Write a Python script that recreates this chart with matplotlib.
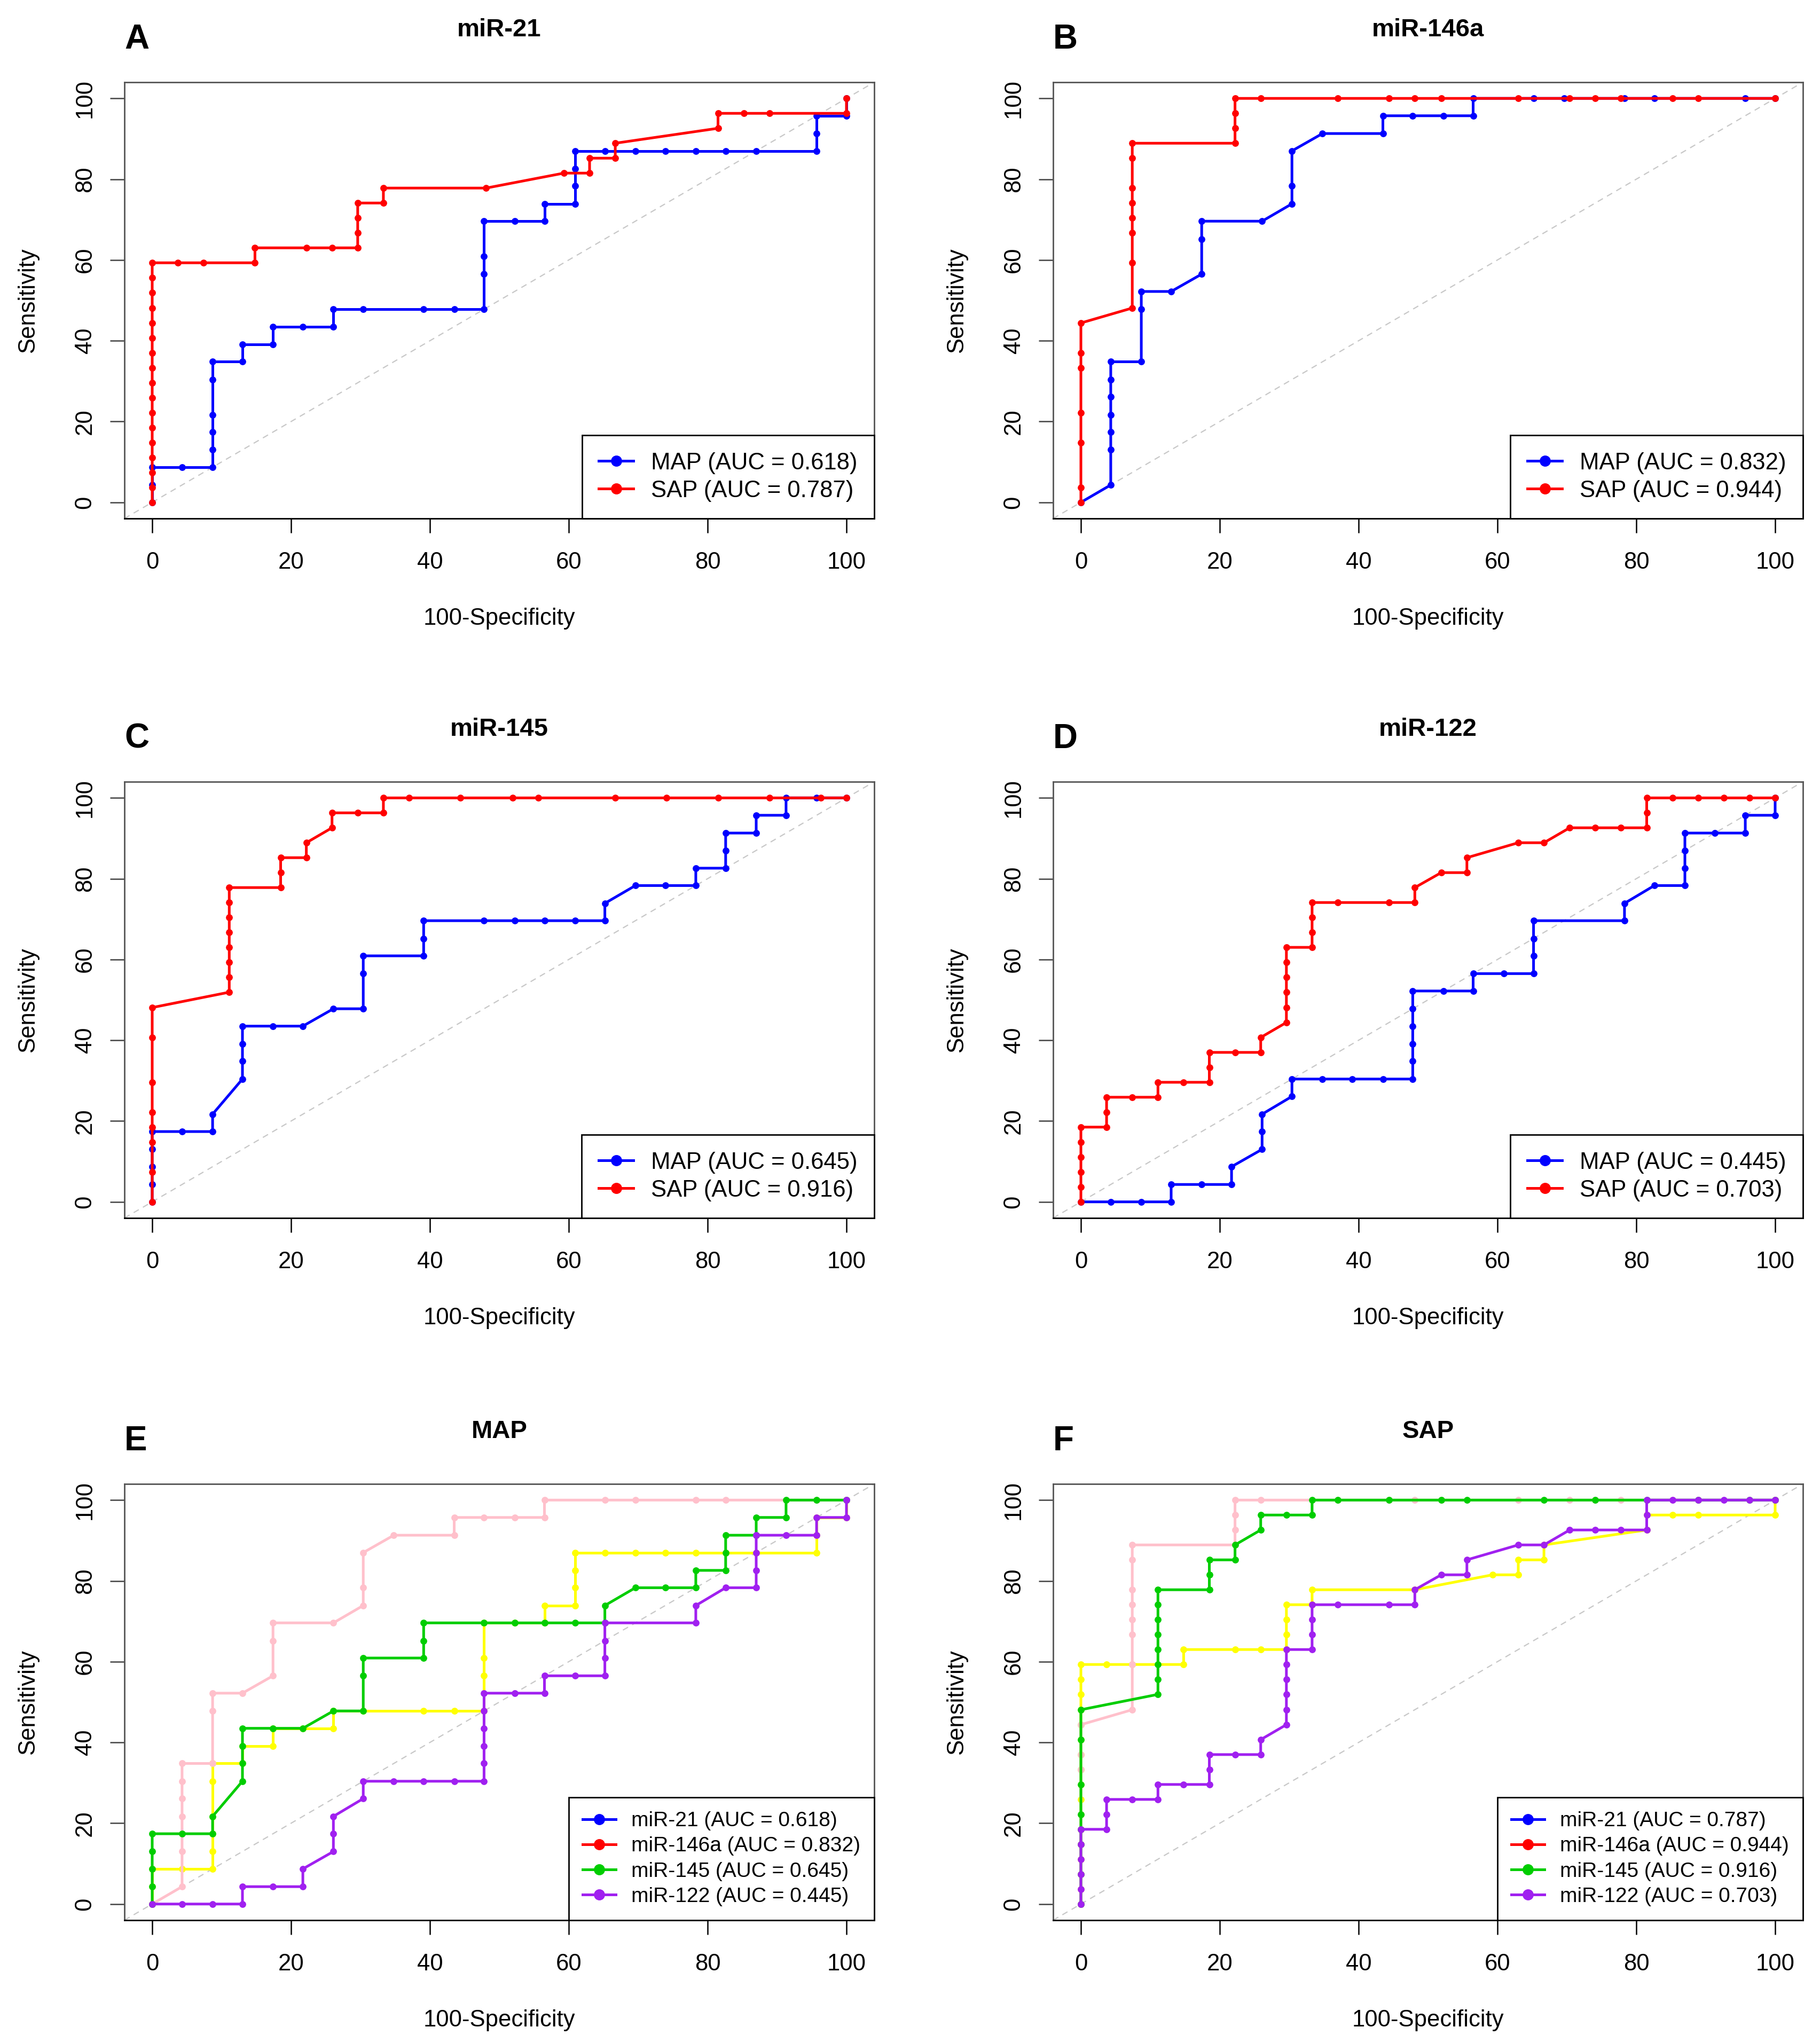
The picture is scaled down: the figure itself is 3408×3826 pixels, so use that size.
import matplotlib
matplotlib.use("Agg")
import matplotlib.pyplot as plt
from matplotlib.lines import Line2D

plt.rcParams['font.family'] = ['Liberation Sans', 'DejaVu Sans']

# ROC coordinates: x = 100-Specificity, y = Sensitivity (%)
# miR-21
mir21_map_x = [0, 0, 0, 4.3, 8.7, 8.7, 8.7, 8.7, 8.7, 8.7, 13.0, 13.0, 17.4, 17.4, 21.7, 26.1, 26.1, 30.4, 39.1,
               43.5, 47.8, 47.8, 47.8, 47.8, 52.2, 56.5, 56.5, 60.9, 60.9, 60.9, 60.9, 65.2, 69.6, 73.9, 78.3,
               82.6, 87.0, 95.7, 95.7, 95.7, 100, 100]
mir21_map_y = [0, 4.3, 8.7, 8.7, 8.7, 13.0, 17.4, 21.7, 30.4, 34.8, 34.8, 39.1, 39.1, 43.5, 43.5, 43.5, 47.8, 47.8,
               47.8, 47.8, 47.8, 56.5, 60.9, 69.6, 69.6, 69.6, 73.9, 73.9, 78.3, 82.6, 87.0, 87.0, 87.0, 87.0,
               87.0, 87.0, 87.0, 87.0, 91.3, 95.7, 95.7, 100]
mir21_sap_x = [0, 0, 0, 0, 0, 0, 0, 0, 0, 0, 0, 0, 0, 0, 0, 0, 0, 3.7, 7.4, 14.8, 14.8, 22.2, 25.9, 29.6, 29.6,
               29.6, 29.6, 33.3, 33.3, 48.1, 59.3, 63.0, 63.0, 66.7, 66.7, 81.5, 81.5, 85.2, 88.9, 100, 100]
mir21_sap_y = [0, 3.7, 7.4, 11.1, 14.8, 18.5, 22.2, 25.9, 29.6, 33.3, 37.0, 40.7, 44.4, 48.1, 51.9, 55.6, 59.3,
               59.3, 59.3, 59.3, 63.0, 63.0, 63.0, 63.0, 66.7, 70.4, 74.1, 74.1, 77.8, 77.8, 81.5, 81.5, 85.2,
               85.2, 88.9, 92.6, 96.3, 96.3, 96.3, 96.3, 100]

# miR-146a
mir146a_map_x = [0, 4.3, 4.3, 4.3, 4.3, 4.3, 4.3, 4.3, 8.7, 8.7, 8.7, 13.0, 17.4, 17.4, 17.4, 26.1, 30.4, 30.4,
                 30.4, 34.8, 43.5, 43.5, 47.8, 52.2, 56.5, 56.5, 65.2, 69.6, 78.3, 82.6, 95.7, 100]
mir146a_map_y = [0, 4.3, 13.0, 17.4, 21.7, 26.1, 30.4, 34.8, 34.8, 47.8, 52.2, 52.2, 56.5, 65.2, 69.6, 69.6,
                 73.9, 78.3, 87.0, 91.3, 91.3, 95.7, 95.7, 95.7, 95.7, 100, 100, 100, 100, 100, 100, 100]
mir146a_sap_x = [0, 0, 0, 0, 0, 0, 0, 7.4, 7.4, 7.4, 7.4, 7.4, 7.4, 7.4, 7.4, 22.2, 22.2, 22.2, 22.2, 25.9,
                 37.0, 44.4, 48.1, 51.9, 63.0, 70.4, 74.1, 77.8, 85.2, 88.9, 100]
mir146a_sap_y = [0, 3.7, 14.8, 22.2, 33.3, 37.0, 44.4, 48.1, 59.3, 66.7, 70.4, 74.1, 77.8, 85.2, 88.9, 88.9,
                 92.6, 96.3, 100, 100, 100, 100, 100, 100, 100, 100, 100, 100, 100, 100, 100]

# miR-145
mir145_map_x = [0, 0, 0, 0, 0, 4.3, 8.7, 8.7, 13.0, 13.0, 13.0, 13.0, 17.4, 21.7, 26.1, 30.4, 30.4, 30.4, 39.1,
                39.1, 39.1, 47.8, 52.2, 56.5, 60.9, 65.2, 65.2, 69.6, 73.9, 78.3, 78.3, 82.6, 82.6, 82.6, 87.0,
                87.0, 91.3, 91.3, 95.7, 100]
mir145_map_y = [0, 4.3, 8.7, 13.0, 17.4, 17.4, 17.4, 21.7, 30.4, 34.8, 39.1, 43.5, 43.5, 43.5, 47.8, 47.8, 56.5,
                60.9, 60.9, 65.2, 69.6, 69.6, 69.6, 69.6, 69.6, 69.6, 73.9, 78.3, 78.3, 78.3, 82.6, 82.6, 87.0,
                91.3, 91.3, 95.7, 95.7, 100, 100, 100]
mir145_sap_x = [0, 0, 0, 0, 0, 0, 0, 0, 11.1, 11.1, 11.1, 11.1, 11.1, 11.1, 11.1, 11.1, 18.5, 18.5, 18.5, 22.2,
                22.2, 25.9, 25.9, 29.6, 33.3, 33.3, 37.0, 44.4, 51.9, 55.6, 66.7, 74.1, 81.5, 88.9, 96.3, 100]
mir145_sap_y = [0, 7.4, 14.8, 18.5, 22.2, 29.6, 40.7, 48.1, 51.9, 55.6, 59.3, 63.0, 66.7, 70.4, 74.1, 77.8,
                77.8, 81.5, 85.2, 85.2, 88.9, 92.6, 96.3, 96.3, 96.3, 100, 100, 100, 100, 100, 100, 100, 100,
                100, 100, 100]

# miR-122
mir122_map_x = [0, 4.3, 8.7, 13.0, 13.0, 17.4, 21.7, 21.7, 26.1, 26.1, 26.1, 30.4, 30.4, 34.8, 39.1, 43.5,
                47.8, 47.8, 47.8, 47.8, 47.8, 47.8, 52.2, 56.5, 56.5, 60.9, 65.2, 65.2, 65.2, 65.2, 78.3, 78.3,
                82.6, 87.0, 87.0, 87.0, 87.0, 91.3, 95.7, 95.7, 100, 100]
mir122_map_y = [0, 0, 0, 0, 4.3, 4.3, 4.3, 8.7, 13.0, 17.4, 21.7, 26.1, 30.4, 30.4, 30.4, 30.4, 30.4, 34.8,
                39.1, 43.5, 47.8, 52.2, 52.2, 52.2, 56.5, 56.5, 56.5, 60.9, 65.2, 69.6, 69.6, 73.9, 78.3, 78.3,
                82.6, 87.0, 91.3, 91.3, 91.3, 95.7, 95.7, 100]
mir122_sap_x = [0, 0, 0, 0, 0, 0, 3.7, 3.7, 3.7, 7.4, 11.1, 11.1, 14.8, 18.5, 18.5, 18.5, 22.2, 25.9, 25.9,
                29.6, 29.6, 29.6, 29.6, 29.6, 29.6, 33.3, 33.3, 33.3, 33.3, 37.0, 44.4, 48.1, 48.1, 51.9, 55.6,
                55.6, 63.0, 66.7, 70.4, 74.1, 77.8, 81.5, 81.5, 81.5, 85.2, 88.9, 92.6, 96.3, 100]
mir122_sap_y = [0, 3.7, 7.4, 11.1, 14.8, 18.5, 18.5, 22.2, 25.9, 25.9, 25.9, 29.6, 29.6, 29.6, 33.3, 37.0,
                37.0, 37.0, 40.7, 44.4, 48.1, 51.9, 55.6, 59.3, 63.0, 63.0, 66.7, 70.4, 74.1, 74.1, 74.1, 74.1,
                77.8, 81.5, 81.5, 85.2, 88.9, 88.9, 92.6, 92.6, 92.6, 92.6, 96.3, 100, 100, 100, 100, 100, 100]

auc_map = [0.618, 0.832, 0.645, 0.445]
auc_sap = [0.787, 0.944, 0.916, 0.703]
mirnas = ['miR-21', 'miR-146a', 'miR-145', 'miR-122']

map_curves = [(mir21_map_x, mir21_map_y), (mir146a_map_x, mir146a_map_y),
              (mir145_map_x, mir145_map_y), (mir122_map_x, mir122_map_y)]
sap_curves = [(mir21_sap_x, mir21_sap_y), (mir146a_sap_x, mir146a_sap_y),
              (mir145_sap_x, mir145_sap_y), (mir122_sap_x, mir122_sap_y)]

GREEN = '#00cd00'
PURPLE = '#a020f0'
# combined panels draw lines in these colours, but the legend keys use the other set
combo_line_colors = ['yellow', 'pink', GREEN, PURPLE]
combo_key_colors = ['blue', 'red', GREEN, PURPLE]

W, H = 3408, 3826
fig = plt.figure(figsize=(W / 200, H / 200), dpi=200)

lefts = [233, 1972]
bottoms = [971, 2281, 3596]
ax_w, ax_h = 1404, 817

FS = 15.7
LW = 1.8
MS = 3.6
axes = []
for r in range(3):
    for c in range(2):
        ax = fig.add_axes([lefts[c] / W, 1 - bottoms[r] / H, ax_w / W, ax_h / H])
        axes.append(ax)


def style_axes(ax, title, letter):
    ax.set_xlim(-4, 104)
    ax.set_ylim(-4, 104)
    ax.set_xticks([0, 20, 40, 60, 80, 100])
    ax.set_yticks([0, 20, 40, 60, 80, 100])
    ax.tick_params(axis='both', direction='out', length=9.7, width=0.9, labelsize=FS)
    ax.tick_params(axis='x', pad=12.5, colors='black')
    ax.tick_params(axis='y', pad=9.5, labelrotation=90, color='#444444')
    for lbl in ax.get_yticklabels():
        lbl.set_va('center')
    for side in ['top', 'left', 'right']:
        ax.spines[side].set_color('#555555')
        ax.spines[side].set_linewidth(1.0)
    ax.spines['bottom'].set_color('black')
    ax.spines['bottom'].set_linewidth(1.0)
    ax.set_xlabel('100-Specificity', fontsize=FS)
    ax.set_ylabel('Sensitivity', fontsize=FS)
    ax.xaxis.set_label_coords(0.5, -0.205)
    ax.yaxis.set_label_coords(-0.114, 0.5)
    ax.set_title(title, fontsize=17, fontweight='bold', pad=31)
    ax.text(0, 1 + 63 / ax_h, letter, transform=ax.transAxes, fontsize=23,
            fontweight='bold', ha='left', va='baseline')
    ax.axline((0, 0), (100, 100), color='#c8c8c8', lw=0.8, ls=(0, (5, 4)), zorder=1)


def add_legend(ax, labels, colors, fs, spacing, pad, hlen, tpad):
    handles = [Line2D([], [], color=col, lw=LW, marker='o', ms=6.5) for col in colors]
    leg = ax.legend(handles, labels, loc='lower right', bbox_to_anchor=(1, 0), borderaxespad=0,
                    fontsize=fs, frameon=True, fancybox=False, framealpha=1, edgecolor='black',
                    handlelength=hlen, handletextpad=tpad, borderpad=pad, labelspacing=spacing)
    leg.get_frame().set_linewidth(1.0)
    leg.set_zorder(5)


# panels A-D: one miRNA, MAP vs SAP
for i in range(4):
    ax = axes[i]
    style_axes(ax, mirnas[i], 'ABCD'[i])
    mx, my = map_curves[i]
    sx, sy = sap_curves[i]
    ax.plot(mx, my, color='blue', lw=LW, marker='o', ms=MS, zorder=2)
    ax.plot(sx, sy, color='red', lw=LW, marker='o', ms=MS, zorder=3)
    add_legend(ax, [f'MAP (AUC = {auc_map[i]:.3f})', f'SAP (AUC = {auc_sap[i]:.3f})'],
               ['blue', 'red'], FS, 0.25, 0.72, 1.5, 0.75)

# panels E-F: all miRNAs for one group
for k, (ttl, curves, aucs) in enumerate([('MAP', map_curves, auc_map), ('SAP', sap_curves, auc_sap)]):
    ax = axes[4 + k]
    style_axes(ax, ttl, 'EF'[k])
    for j, (x, y) in enumerate(curves):
        ax.plot(x, y, color=combo_line_colors[j], lw=LW, marker='o', ms=MS, zorder=2 + j)
    add_legend(ax, [f'{m} (AUC = {a:.3f})' for m, a in zip(mirnas, aucs)],
               combo_key_colors, 14, 0.29, 0.67, 1.6, 0.75)

fig.savefig('out.png', dpi=200)
